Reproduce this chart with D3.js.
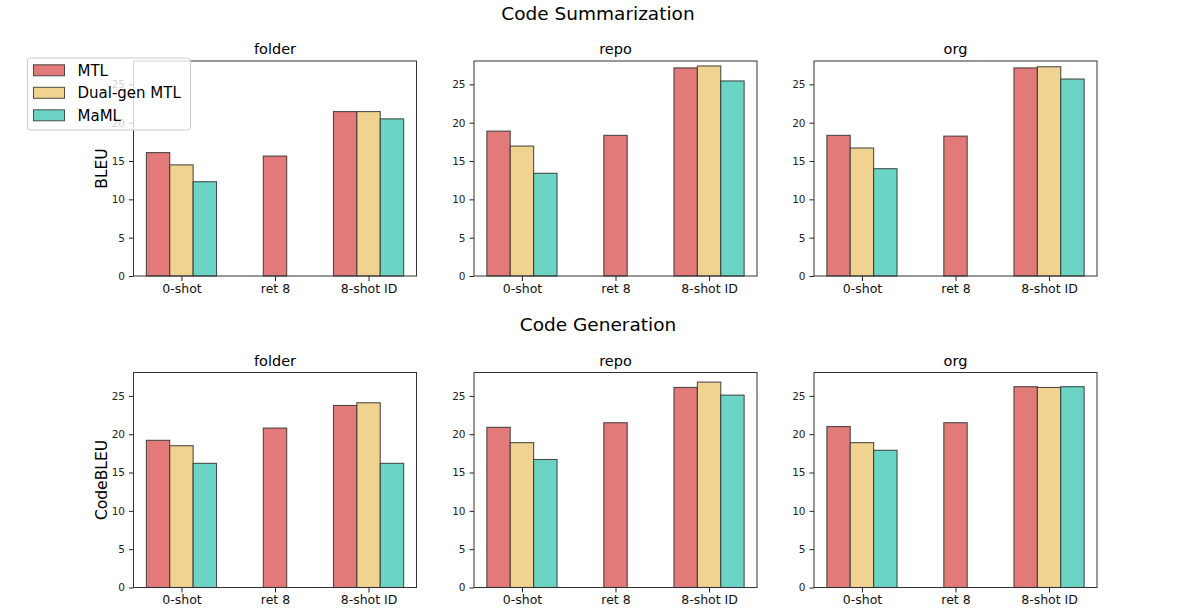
<!DOCTYPE html>
<html>
<head>
<meta charset="utf-8" />
<title>Code Summarization / Generation</title>
<script src="https://d3js.org/d3.v7.min.js"></script>
<style>
  body { margin: 0; background: #fff; }
  svg text { font-family: "DejaVu Sans", sans-serif; }
</style>
</head>
<body>
<script>
// data
var categories = ["0-shot", "ret 8", "8-shot ID"];
var series = ["MTL", "Dual-gen MTL", "MaML"];
var colors = ["#e17a79", "#f0d390", "#6bd4c5"];
var panels = ["folder", "repo", "org"];
var yTicks = [0, 5, 10, 15, 20, 25];

// [panel][series][category], null = no bar
var sumFolder = [[16.1, 15.65, 21.45], [14.5, null, 21.45], [12.3, null, 20.5]];
var sumRepo   = [[18.9, 18.35, 27.15], [16.95, null, 27.4], [13.4, null, 25.45]];
var sumOrg    = [[18.35, 18.25, 27.15], [16.7, null, 27.3], [14.0, null, 25.7]];
var genFolder = [[19.2, 20.8, 23.75], [18.5, null, 24.1], [16.2, null, 16.2]];
var genRepo   = [[20.9, 21.5, 26.1], [18.9, null, 26.8], [16.7, null, 25.1]];
var genOrg    = [[21.0, 21.5, 26.2], [18.9, null, 26.1], [17.9, null, 26.2]];

var W = 1196, H = 615;
var colX = [133.5, 474, 814], axW = 283, axH = 215;
var rows = [
  { title: "Code Summarization", titleY: 19.5, top: 61, ylabel: "BLEU", data: [sumFolder, sumRepo, sumOrg] },
  { title: "Code Generation", titleY: 330.5, top: 372.5, ylabel: "CodeBLEU", data: [genFolder, genRepo, genOrg] }
];

var svg = d3.select("body").append("svg")
  .attr("width", W).attr("height", H)
  .attr("viewBox", "0 0 " + W + " " + H);

var barW = 0.25;
// x in "category units" like matplotlib: bars span -0.375..2.375, plus 5% margins
var x = d3.scaleLinear().domain([-0.375 - 0.1375, 2.375 + 0.1375]).range([0, axW]);
var y = d3.scaleLinear().domain([0, 28.05]).range([axH, 0]);

rows.forEach(function(row) {
  svg.append("text")
    .attr("x", W / 2).attr("y", row.titleY)
    .attr("text-anchor", "middle")
    .style("font-size", "18.5px")
    .text(row.title);

  row.data.forEach(function(pd, pi) {
    var g = svg.append("g").attr("transform", "translate(" + colX[pi] + "," + row.top + ")");

    // bars
    pd.forEach(function(vals, si) {
      vals.forEach(function(v, ci) {
        if (v == null) return;
        // a category with one bar only gets it centred
        var present = pd.filter(function(s) { return s[ci] != null; }).length;
        var off = present == 1 ? 0 : (si - 1) * barW;
        var x0 = ci + off - barW / 2;
        g.append("rect")
          .attr("x", x(x0))
          .attr("y", y(v))
          .attr("width", x(x0 + barW) - x(x0))
          .attr("height", y(0) - y(v))
          .attr("fill", colors[si])
          .attr("stroke", "#333")
          .attr("stroke-opacity", 0.85)
          .attr("stroke-width", 1.1);
      });
    });

    // y axis
    var ya = g.append("g").call(d3.axisLeft(y).tickValues(yTicks).tickSize(4.5).tickPadding(4));
    ya.select(".domain").remove();
    ya.selectAll("text").style("font-size", "10.5px").attr("fill", "#222");
    ya.selectAll("line").attr("stroke", "#222");

    // x axis
    var xa = g.append("g").attr("transform", "translate(0," + axH + ")")
      .call(d3.axisBottom(x).tickValues([0, 1, 2]).tickFormat(function(d) { return categories[d]; }).tickSize(5).tickPadding(3));
    xa.select(".domain").remove();
    xa.selectAll("text").style("font-size", "12.5px").attr("fill", "#111");
    xa.selectAll("line").attr("stroke", "#222");

    // frame
    g.append("rect").attr("width", axW).attr("height", axH)
      .attr("fill", "none").attr("stroke", "#333").attr("stroke-width", 1);

    g.append("text")
      .attr("x", axW / 2).attr("y", -7)
      .attr("text-anchor", "middle")
      .style("font-size", "14.5px")
      .text(panels[pi]);

    if (pi == 0) {
      g.append("text")
        .attr("transform", "translate(-27," + (axH / 2) + ") rotate(-90)")
        .attr("text-anchor", "middle")
        .style("font-size", "15.5px")
        .text(row.ylabel);
    }
  });
});

// legend (top left, semi transparent like matplotlib)
var lg = svg.append("g").attr("transform", "translate(27.5,58)");
lg.append("rect").attr("width", 163).attr("height", 72).attr("rx", 3)
  .attr("fill", "#fff").attr("fill-opacity", 0.8)
  .attr("stroke", "#ccc").attr("stroke-width", 1);
series.forEach(function(s, i) {
  var cy = 12.3 + i * 22.5;
  lg.append("rect").attr("x", 6).attr("y", cy - 5.5).attr("width", 31).attr("height", 11)
    .attr("fill", colors[i]).attr("stroke", "#333").attr("stroke-opacity", 0.85);
  lg.append("text").attr("x", 50).attr("y", cy + 5.5)
    .style("font-size", "15px").text(s);
});
</script>
</body>
</html>
